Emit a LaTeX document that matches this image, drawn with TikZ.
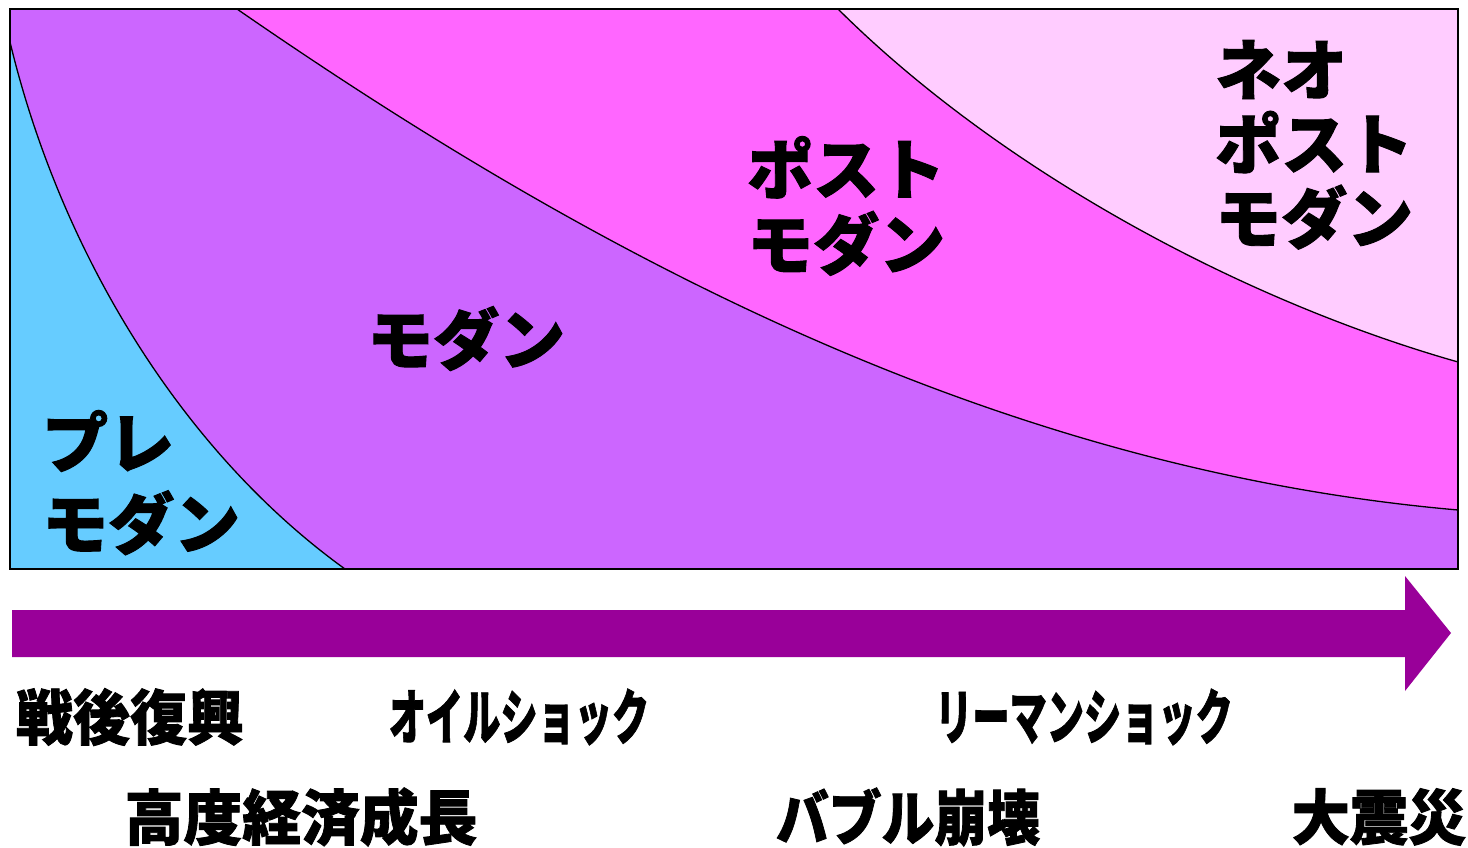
\documentclass[tikz,border=0pt]{standalone}
\usepackage{fontspec}
\newfontfamily\cjk[FakeBold=1.4]{Noto Sans CJK JP}
\definecolor{cblue}{HTML}{66CCFF}
\definecolor{cpurple}{HTML}{CC66FF}
\definecolor{cmag}{HTML}{FF66FF}
\definecolor{cpink}{HTML}{FFCCFF}
\definecolor{carrow}{HTML}{990099}
\begin{document}
\begin{tikzpicture}[x=1pt,y=-1pt,
  region/.style={anchor=north west,inner sep=0pt,align=left,font=\cjk\bfseries\fontsize{66}{75}\selectfont},
  event/.style={inner sep=0pt,font=\cjk\bfseries\fontsize{60}{60}\selectfont},
  border/.style={line width=1.3pt}]
\useasboundingbox (0,0) rectangle (1468,848);
\coordinate (tl) at (10,9);
\coordinate (br) at (1458,569);
% regions
\fill[cpurple] (tl) rectangle (br);
\fill[cblue] (10,42) .. controls (60,250) and (180,450) .. (345,569) -- (10,569) -- cycle;
\fill[cmag] (237,9) .. controls (600,260) and (1000,470) .. (1458,510) -- (1458,9) -- cycle;
\fill[cpink] (838,9) .. controls (1000,170) and (1240,300) .. (1458,362) -- (1458,9) -- cycle;
\draw[border] (10,42) .. controls (60,250) and (180,450) .. (345,569);
\draw[border] (237,9) .. controls (600,260) and (1000,470) .. (1458,510);
\draw[border] (838,9) .. controls (1000,170) and (1240,300) .. (1458,362);
\draw[line width=2.2pt] (tl) rectangle (br);
% arrow
\fill[carrow] (12,610) -- (1405,610) -- (1405,576) -- (1451,633) -- (1405,691) -- (1405,657) -- (12,657) -- cycle;
% region labels
\node[region] (pre) at (42,410) {プレ\\[6pt]モダン};
\node[region] (mod) at (367,306) {モダン};
\node[region] (post) at (747,136) {ポスト\\モダン};
\node[region] (neo) at (1215,40) {ネオ\\[-1pt]ポスト\\[-1pt]モダン};
% events
\node[event] (e1) at (130,717) {\scalebox{0.95}[1]{戦後復興}};
\node[event] (e2) at (519,717) {\scalebox{0.62}[1]{オイルショック}};
\node[event] (e3) at (1084,717) {\scalebox{0.62}[1]{リーマンショック}};
\node[event] (e4) at (301,817) {\scalebox{0.98}[1]{高度経済成長}};
\node[event] (e5) at (908,817) {\scalebox{0.88}[1]{バブル崩壊}};
\node[event] (e6) at (1379,817) {\scalebox{0.97}[1]{大震災}};
\end{tikzpicture}
\end{document}
